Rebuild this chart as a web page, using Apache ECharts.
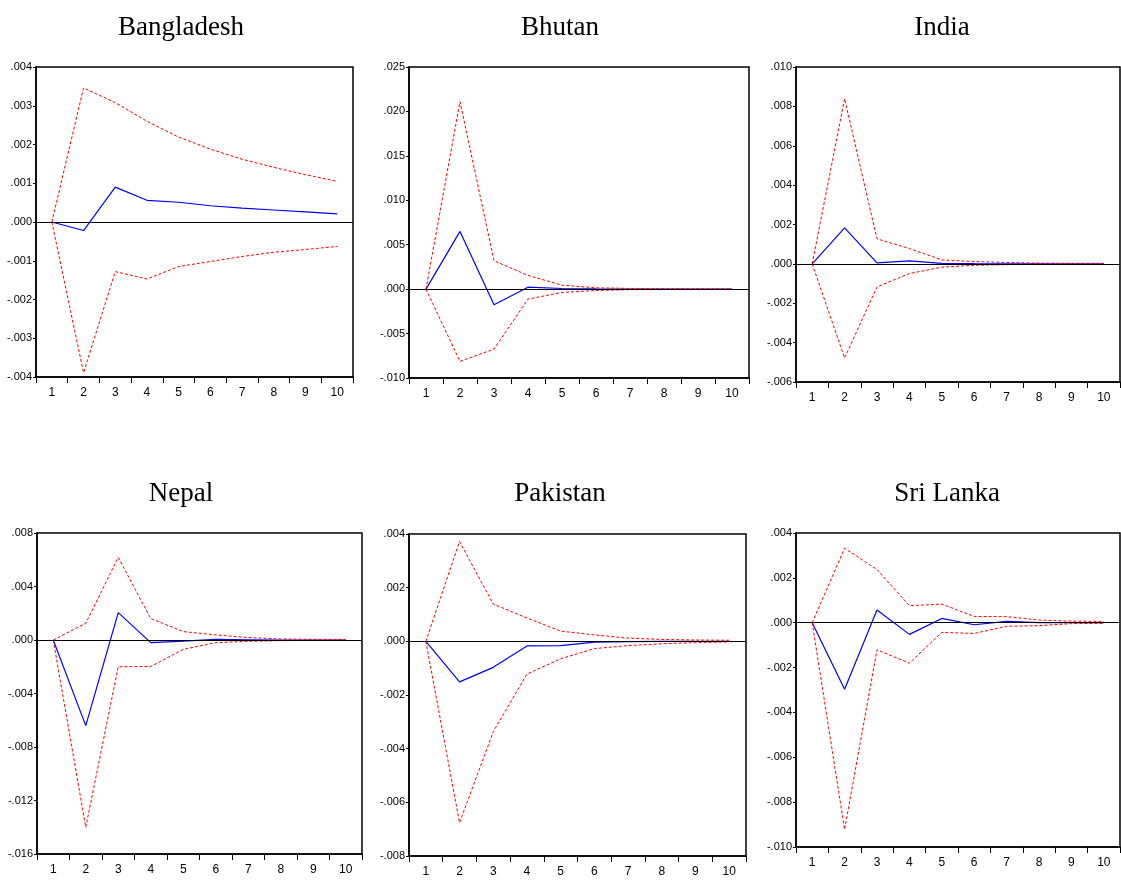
<!DOCTYPE html>
<html>
<head>
<meta charset="utf-8">
<script src="https://cdn.jsdelivr.net/npm/echarts@6/dist/echarts.min.js"></script>
<style>
  html, body { margin: 0; padding: 0; background: #fff; }
  #chart { width: 1121px; height: 880px; }
</style>
</head>
<body>
<div id="chart"></div>
<script>
// periods on the x axis
const periods = ['1', '2', '3', '4', '5', '6', '7', '8', '9', '10']

// impulse responses (blue) and +/- 2 s.e. bands (red dashed)
const bangladeshResp  = [0, -0.00022, 0.0009, 0.00056, 0.00051, 0.00042, 0.00036, 0.00031, 0.00026, 0.00021]
const bangladeshUpper = [0, 0.00346, 0.00308, 0.0026, 0.00219, 0.00188, 0.00162, 0.00141, 0.00122, 0.00105]
const bangladeshLower = [0, -0.00389, -0.00128, -0.00147, -0.00115, -0.00102, -0.00089, -0.00078, -0.00071, -0.00063]

const bhutanResp  = [0, 0.0065, -0.00176, 0.00022, 0.00007, 0.00002, 0.00001, 0, 0, 0]
const bhutanUpper = [0, 0.0211, 0.0032, 0.00154, 0.00045, 0.00015, 0.00008, 0.00005, 0.00004, 0.00003]
const bhutanLower = [0, -0.00813, -0.00674, -0.00112, -0.00037, -0.00015, -0.00006, -0.00004, -0.00003, -0.00002]

const indiaResp  = [0, 0.00183, 0.00005, 0.00015, 0.00003, 0.00001, 0, 0, 0, 0]
const indiaUpper = [0, 0.00839, 0.00127, 0.00078, 0.0002, 0.00012, 0.00007, 0.00004, 0.00003, 0.00003]
const indiaLower = [0, -0.00478, -0.00117, -0.00049, -0.00017, -0.00007, -0.00004, -0.00003, -0.00003, -0.00002]

const nepalResp  = [0, -0.0064, 0.00205, -0.0002, -0.00008, 0.00005, 0.00002, 0, 0, 0]
const nepalUpper = [0, 0.00125, 0.00618, 0.0016, 0.00063, 0.00038, 0.00018, 0.00008, 0.00005, 0.00004]
const nepalLower = [0, -0.014, -0.002, -0.00198, -0.0007, -0.0002, -0.0001, -0.00005, -0.00003, -0.00002]

const pakistanResp  = [0, -0.00151, -0.00097, -0.00017, -0.00016, -0.00003, -0.00001, 0, 0, 0]
const pakistanUpper = [0, 0.00372, 0.00139, 0.00087, 0.00038, 0.00024, 0.00012, 0.00007, 0.00005, 0.00004]
const pakistanLower = [0, -0.00676, -0.00337, -0.00122, -0.00065, -0.00027, -0.00016, -0.00009, -0.00005, -0.00002]

const sriLankaResp  = [0, -0.00297, 0.00057, -0.00052, 0.00019, -0.00009, 0.00006, 0, 0, 0]
const sriLankaUpper = [0, 0.00332, 0.00237, 0.00076, 0.00083, 0.00028, 0.00027, 0.00012, 0.00007, 0.00006]
const sriLankaLower = [0, -0.00922, -0.00121, -0.0018, -0.00043, -0.00048, -0.00016, -0.00013, -0.00004, -0.00003]

const panels = [
  { name: 'Bangladesh', resp: bangladeshResp, upper: bangladeshUpper, lower: bangladeshLower, min: -0.004, max: 0.004, interval: 0.001 },
  { name: 'Bhutan', resp: bhutanResp, upper: bhutanUpper, lower: bhutanLower, min: -0.010, max: 0.025, interval: 0.005 },
  { name: 'India', resp: indiaResp, upper: indiaUpper, lower: indiaLower, min: -0.006, max: 0.010, interval: 0.002 },
  { name: 'Nepal', resp: nepalResp, upper: nepalUpper, lower: nepalLower, min: -0.016, max: 0.008, interval: 0.004 },
  { name: 'Pakistan', resp: pakistanResp, upper: pakistanUpper, lower: pakistanLower, min: -0.008, max: 0.004, interval: 0.002 },
  { name: 'Sri Lanka', resp: sriLankaResp, upper: sriLankaUpper, lower: sriLankaLower, min: -0.010, max: 0.004, interval: 0.002 }
]

// grid boxes in pixels, and where each title sits
const layout = [
  { left: 36, top: 67, width: 317, height: 310, titleX: 176, titleY: 9 },
  { left: 409, top: 67, width: 340, height: 311, titleX: 555, titleY: 9 },
  { left: 796, top: 67, width: 324, height: 315, titleX: 937, titleY: 9 },
  { left: 37, top: 533, width: 325, height: 321, titleX: 176, titleY: 475 },
  { left: 409, top: 534, width: 337, height: 322, titleX: 555, titleY: 475 },
  { left: 796, top: 533, width: 324, height: 314, titleX: 942, titleY: 475 }
]

const labelFont = '"Liberation Sans Narrow", "Arial Narrow", "Liberation Sans", Arial, sans-serif'

function fmt(v) {
  const s = Math.abs(v).toFixed(3).replace(/^0/, '')
  return (v < -1e-9 ? '-' : '') + s
}

const myChart = echarts.init(document.getElementById('chart'), null, { renderer: 'canvas' })

const option = {
  backgroundColor: '#fff',
  animation: false,
  title: [],
  grid: [],
  xAxis: [],
  yAxis: [],
  series: []
}

panels.forEach((p, i) => {
  const L = layout[i]
  option.title.push({
    text: p.name,
    left: L.titleX,
    top: L.titleY,
    textAlign: 'center',
    textStyle: {
      fontFamily: '"Liberation Serif", "Times New Roman", serif',
      fontSize: 27,
      fontWeight: 'normal',
      color: '#000'
    }
  })
  option.grid.push({
    left: L.left,
    top: L.top,
    width: L.width,
    height: L.height,
    show: true,
    borderColor: '#000',
    borderWidth: 1.5,
    backgroundColor: 'transparent',
    containLabel: false
  })
  option.xAxis.push({
    type: 'category',
    gridIndex: i,
    data: periods,
    boundaryGap: true,
    axisLine: { show: true, onZero: false, lineStyle: { color: '#000', width: 1.5 } },
    axisTick: { show: true, inside: false, length: 6, lineStyle: { color: '#000' } },
    axisLabel: { color: '#000', fontFamily: labelFont, fontSize: 12, margin: 10 },
    splitLine: { show: false }
  })
  option.yAxis.push({
    type: 'value',
    gridIndex: i,
    min: p.min,
    max: p.max,
    interval: p.interval,
    axisLine: { show: true, onZero: false, lineStyle: { color: '#000', width: 1.5 } },
    axisTick: { show: true, inside: false, length: 3, lineStyle: { color: '#000' } },
    axisLabel: { color: '#000', fontFamily: labelFont, fontSize: 11, margin: 4, formatter: fmt },
    splitLine: { show: false }
  })
  // blue response line, with the zero line as a markLine
  option.series.push({
    type: 'line',
    xAxisIndex: i,
    yAxisIndex: i,
    data: p.resp,
    symbol: 'none',
    lineStyle: { color: '#0000ff', width: 1.2 },
    markLine: {
      silent: true,
      symbol: 'none',
      label: { show: false },
      lineStyle: { color: '#000', type: 'solid', width: 1 },
      data: [{ yAxis: 0 }]
    },
    z: 3
  })
  ;[p.upper, p.lower].forEach(band => {
    option.series.push({
      type: 'line',
      xAxisIndex: i,
      yAxisIndex: i,
      data: band,
      symbol: 'none',
      lineStyle: { color: '#ff0000', width: 1, type: [3, 2] },
      z: 4
    })
  })
})

myChart.setOption(option)
</script>
</body>
</html>
